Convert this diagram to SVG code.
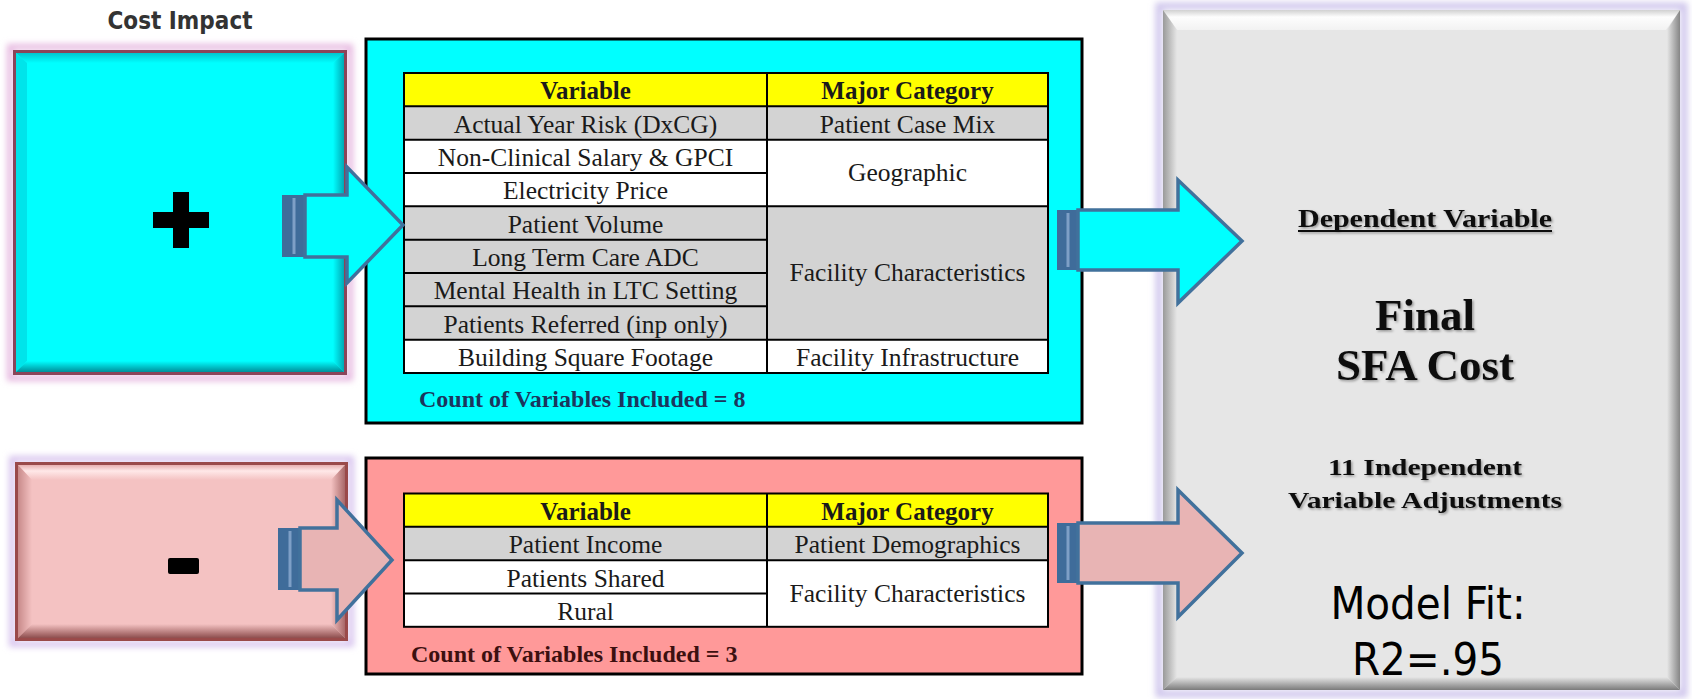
<svg xmlns="http://www.w3.org/2000/svg" width="1692" height="699" viewBox="0 0 1692 699">
  <defs>
    <style>
      .cell { font-family: "Liberation Serif", "Times New Roman", serif; font-size: 25.5px; fill: #1a1a1a; text-anchor: middle; }
      .head { font-family: "Liberation Serif", "Times New Roman", serif; font-size: 25px; font-weight: bold; fill: #1a1a1a; text-anchor: middle; }
      .count { font-family: "Liberation Serif", "Times New Roman", serif; font-size: 24px; font-weight: bold; }
      .grid { stroke: #000; stroke-width: 2; fill: none; }
      .bold-serif { font-family: "Liberation Serif", "Times New Roman", serif; font-weight: bold; fill: #111; text-anchor: middle; }
      .sans { font-family: "DejaVu Sans Condensed", "DejaVu Sans", sans-serif; font-stretch: condensed; text-anchor: middle; }
      .arrow { stroke: #41719C; stroke-width: 3.5; stroke-linejoin: miter; }
      .stripe { fill: #3F6C9A; }
      .stripe-line { stroke: #7E9FC6; stroke-width: 3; }
    </style>
    <filter id="glow" x="-10%" y="-10%" width="120%" height="120%">
      <feGaussianBlur stdDeviation="3"/>
    </filter>
    <filter id="tshadow" x="-10%" y="-30%" width="120%" height="160%">
      <feDropShadow dx="1.5" dy="1.5" stdDeviation="1" flood-color="#000" flood-opacity="0.35"/>
    </filter>
    <!-- bevel gradients -->
    <linearGradient id="cyanRight" x1="0" y1="0" x2="1" y2="0">
      <stop offset="0" stop-color="#00FFFF"/>
      <stop offset="1" stop-color="#00A9B5"/>
    </linearGradient>
    <linearGradient id="cyanBottom" x1="0" y1="0" x2="0" y2="1">
      <stop offset="0" stop-color="#00FFFF"/>
      <stop offset="1" stop-color="#008F9A"/>
    </linearGradient>
    <linearGradient id="cyanTop" x1="0" y1="0" x2="0" y2="1">
      <stop offset="0" stop-color="#00C5CF"/>
      <stop offset="1" stop-color="#00FFFF"/>
    </linearGradient>
    <linearGradient id="pinkTop" x1="0" y1="0" x2="0" y2="1">
      <stop offset="0" stop-color="#E8B0B0"/>
      <stop offset="0.4" stop-color="#FFE8E8"/>
      <stop offset="1" stop-color="#F4C2C2"/>
    </linearGradient>
    <linearGradient id="pinkRight" x1="0" y1="0" x2="1" y2="0">
      <stop offset="0" stop-color="#F4C2C2"/>
      <stop offset="1" stop-color="#A86868"/>
    </linearGradient>
    <linearGradient id="pinkBottom" x1="0" y1="0" x2="0" y2="1">
      <stop offset="0" stop-color="#F4C2C2"/>
      <stop offset="1" stop-color="#8E4E4E"/>
    </linearGradient>
    <linearGradient id="pinkLeft" x1="0" y1="0" x2="1" y2="0">
      <stop offset="0" stop-color="#C88A8A"/>
      <stop offset="1" stop-color="#F4C2C2"/>
    </linearGradient>
    <linearGradient id="greyLeft" x1="0" y1="0" x2="1" y2="0">
      <stop offset="0" stop-color="#9A9A9A"/>
      <stop offset="1" stop-color="#E6E6E6"/>
    </linearGradient>
    <linearGradient id="greyRight" x1="0" y1="0" x2="1" y2="0">
      <stop offset="0" stop-color="#E6E6E6"/>
      <stop offset="1" stop-color="#858585"/>
    </linearGradient>
    <linearGradient id="greyBottom" x1="0" y1="0" x2="0" y2="1">
      <stop offset="0" stop-color="#E6E6E6"/>
      <stop offset="1" stop-color="#7A7A7A"/>
    </linearGradient>
    <linearGradient id="greyTop" x1="0" y1="0" x2="0" y2="1">
      <stop offset="0" stop-color="#D0D0D0"/>
      <stop offset="0.35" stop-color="#FDFDFD"/>
      <stop offset="1" stop-color="#F2F2F2"/>
    </linearGradient>
  </defs>

  <rect width="1692" height="699" fill="#FFFFFF"/>

  <!-- heading -->
  <g id="cost-impact-label">
    <text class="sans" x="180" y="29" font-size="24" font-weight="bold" fill="#333">Cost Impact</text>
  </g>

  <!-- positive impact box -->
  <g id="plus-box">
    <rect x="10" y="47" width="340" height="331" fill="none" stroke="#E6B8E0" stroke-width="6" filter="url(#glow)"/>
    <rect x="14.5" y="51.5" width="331" height="322" fill="#00FFFF" stroke="#8A4459" stroke-width="3"/>
    <polygon points="16,53 344,53 333,63 27,63" fill="url(#cyanTop)"/>
    <polygon points="16,53 27,63 27,361 16,372" fill="#00E4EA"/>
    <polygon points="344,53 344,372 333,361 333,63" fill="url(#cyanRight)"/>
    <polygon points="16,372 344,372 333,361 27,361" fill="url(#cyanBottom)"/>
    <rect x="173" y="192" width="16" height="56" fill="#000"/>
    <rect x="153" y="212" width="56" height="16" fill="#000"/>
  </g>

  <!-- negative impact box -->
  <g id="minus-box">
    <rect x="12" y="459" width="339" height="185" fill="none" stroke="#D8C4EE" stroke-width="6" filter="url(#glow)"/>
    <rect x="16.5" y="463.5" width="330" height="176" fill="#F4C2C2" stroke="#9A4A4A" stroke-width="3"/>
    <polygon points="18,465 345,465 331,480 32,480" fill="url(#pinkTop)"/>
    <polygon points="18,465 32,480 32,624 18,638" fill="url(#pinkLeft)"/>
    <polygon points="345,465 345,638 331,624 331,480" fill="url(#pinkRight)"/>
    <polygon points="18,638 345,638 331,624 32,624" fill="url(#pinkBottom)"/>
    <rect x="168" y="558" width="31" height="16" rx="2" fill="#000"/>
  </g>

  <!-- positive variables panel -->
  <g id="plus-panel">
    <rect x="366" y="39" width="716" height="384" fill="#00FFFF" stroke="#000" stroke-width="3"/>
    <rect x="404" y="73" width="644" height="33.3" fill="#FFFF00"/>
    <rect x="404" y="106.3" width="644" height="33.4" fill="#D3D3D3"/>
    <rect x="404" y="139.7" width="644" height="66.6" fill="#FFFFFF"/>
    <rect x="404" y="206.3" width="644" height="133.4" fill="#D3D3D3"/>
    <rect x="404" y="339.7" width="644" height="33.3" fill="#FFFFFF"/>
    <rect class="grid" x="404" y="73" width="644" height="300"/>
    <path class="grid" d="M767 73V373 M404 106.3H1048 M404 139.7H1048 M404 173H767 M404 206.3H1048 M404 239.7H767 M404 273H767 M404 306.3H767 M404 339.7H1048"/>
    <text class="head" x="585.5" y="99">Variable</text>
    <text class="head" x="907.5" y="99">Major Category</text>
    <text class="cell" x="585.5" y="132.5">Actual Year Risk (DxCG)</text>
    <text class="cell" x="585.5" y="166">Non-Clinical Salary &amp; GPCI</text>
    <text class="cell" x="585.5" y="199">Electricity Price</text>
    <text class="cell" x="585.5" y="232.5">Patient Volume</text>
    <text class="cell" x="585.5" y="266">Long Term Care ADC</text>
    <text class="cell" x="585.5" y="299">Mental Health in LTC Setting</text>
    <text class="cell" x="585.5" y="332.5">Patients Referred (inp only)</text>
    <text class="cell" x="585.5" y="366">Building Square Footage</text>
    <text class="cell" x="907.5" y="132.5">Patient Case Mix</text>
    <text class="cell" x="907.5" y="181">Geographic</text>
    <text class="cell" x="907.5" y="281">Facility Characteristics</text>
    <text class="cell" x="907.5" y="366">Facility Infrastructure</text>
    <text class="count" x="419" y="407" fill="#1B365D">Count of Variables Included = 8</text>
  </g>

  <!-- negative variables panel -->
  <g id="minus-panel">
    <rect x="366" y="458" width="716" height="216" fill="#FF9999" stroke="#000" stroke-width="3"/>
    <rect x="404" y="493.5" width="644" height="33.3" fill="#FFFF00"/>
    <rect x="404" y="526.8" width="644" height="33.4" fill="#D3D3D3"/>
    <rect x="404" y="560.2" width="644" height="66.6" fill="#FFFFFF"/>
    <rect class="grid" x="404" y="493.5" width="644" height="133.3"/>
    <path class="grid" d="M767 493.5V626.8 M404 526.8H1048 M404 560.2H1048 M404 593.5H767"/>
    <text class="head" x="585.5" y="519.5">Variable</text>
    <text class="head" x="907.5" y="519.5">Major Category</text>
    <text class="cell" x="585.5" y="553">Patient Income</text>
    <text class="cell" x="585.5" y="586.5">Patients Shared</text>
    <text class="cell" x="585.5" y="620">Rural</text>
    <text class="cell" x="907.5" y="553">Patient Demographics</text>
    <text class="cell" x="907.5" y="601.5">Facility Characteristics</text>
    <text class="count" x="411" y="662" fill="#3C1010">Count of Variables Included = 3</text>
  </g>

  <!-- outcome box -->
  <g id="final-box">
    <rect x="1159" y="6" width="525" height="688" fill="none" stroke="#CFC6EC" stroke-width="7" filter="url(#glow)"/>
    <rect x="1163" y="10" width="517" height="680" fill="#E6E6E6"/>
    <polygon points="1163,10 1680,10 1666,30 1177,30" fill="url(#greyTop)"/>
    <polygon points="1163,10 1177,30 1177,677 1163,690" fill="url(#greyLeft)"/>
    <polygon points="1680,10 1680,690 1667,677 1667,30" fill="url(#greyRight)"/>
    <polygon points="1163,690 1680,690 1667,677 1177,677" fill="url(#greyBottom)"/>
    <g filter="url(#tshadow)">
      <text class="bold-serif" x="1425" y="227" font-size="25" textLength="254" lengthAdjust="spacingAndGlyphs">Dependent Variable</text>
      <rect x="1298" y="230" width="254" height="2" fill="#111"/>
      <text class="bold-serif" x="1425" y="330" font-size="45">Final</text>
      <text class="bold-serif" x="1425" y="380" font-size="45">SFA Cost</text>
      <text class="bold-serif" x="1425" y="475" font-size="23" textLength="194" lengthAdjust="spacingAndGlyphs">11 Independent</text>
      <text class="bold-serif" x="1425" y="508" font-size="23" textLength="274" lengthAdjust="spacingAndGlyphs">Variable Adjustments</text>
    </g>
    <text class="sans" x="1428" y="619" font-size="45" fill="#000">Model Fit:</text>
    <text class="sans" x="1428" y="675" font-size="45" fill="#000">R2=.95</text>
  </g>

  <!-- striped block arrows -->
  <g id="connectors">
    <g id="arrow-plus-in">
      <rect class="stripe" x="282" y="195" width="23" height="62"/>
      <line class="stripe-line" x1="294" y1="198" x2="294" y2="254"/>
      <polygon class="arrow" fill="#00FFFF" points="305,195 347,195 347,167 403,225 347,283 347,257 305,257"/>
    </g>
    <g id="arrow-minus-in">
      <rect class="stripe" x="278" y="528" width="22" height="62"/>
      <line class="stripe-line" x1="290" y1="531" x2="290" y2="587"/>
      <polygon class="arrow" fill="#E8B4B4" points="300,528 337,528 337,500 392,560 337,620 337,590 300,590"/>
    </g>
    <g id="arrow-plus-out">
      <rect class="stripe" x="1057" y="210" width="21" height="60"/>
      <line class="stripe-line" x1="1068" y1="213" x2="1068" y2="267"/>
      <polygon class="arrow" fill="#00FFFF" points="1078,210 1178,210 1178,180 1242,241 1178,303 1178,270 1078,270"/>
    </g>
    <g id="arrow-minus-out">
      <rect class="stripe" x="1057" y="523" width="21" height="60"/>
      <line class="stripe-line" x1="1068" y1="526" x2="1068" y2="580"/>
      <polygon class="arrow" fill="#E8B4B4" points="1078,523 1178,523 1178,490 1242,553 1178,617 1178,583 1078,583"/>
    </g>
  </g>
</svg>
